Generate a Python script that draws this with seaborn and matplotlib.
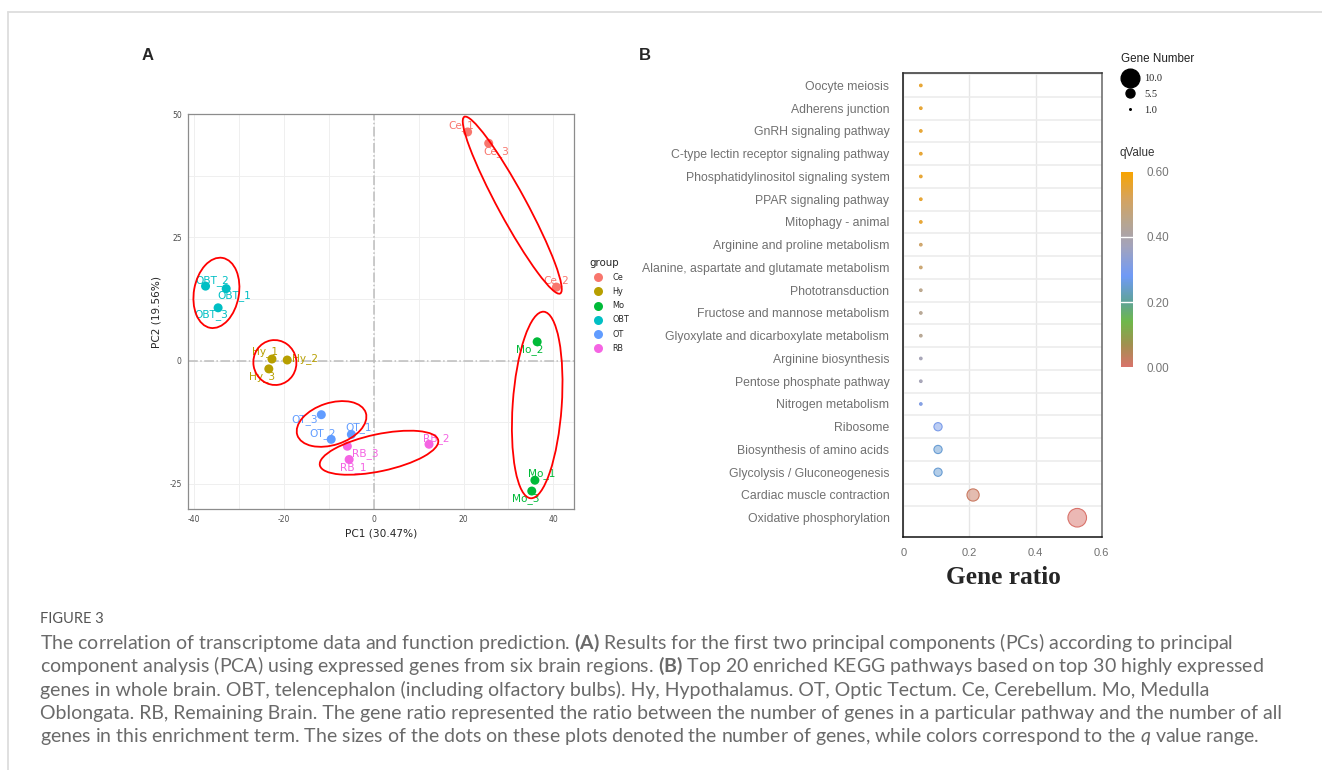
import numpy as np
import pandas as pd
import matplotlib
matplotlib.use("Agg")
import matplotlib.pyplot as plt
import seaborn as sns
from matplotlib.colors import LinearSegmentedColormap, Normalize
from matplotlib.cm import ScalarMappable
from matplotlib.lines import Line2D
from matplotlib.patches import Ellipse
from matplotlib.transforms import ScaledTranslation

# ----------------------------------------------------------------------
# Panel A data: PCA scores of the 18 brain samples
# ----------------------------------------------------------------------
SAMPLES = ["Ce_1", "Ce_2", "Ce_3", "Hy_1", "Hy_2", "Hy_3",
           "Mo_1", "Mo_2", "Mo_3", "OBT_1", "OBT_2", "OBT_3",
           "OT_1", "OT_2", "OT_3", "RB_1", "RB_2", "RB_3"]
PC1 = [20.9, 40.7, 25.6, -22.7, -19.3, -23.4,
       35.9, 36.4, 35.2, -32.9, -37.5, -34.7,
       -5.0, -9.5, -11.7, -5.5, 12.3, -5.9]
PC2 = [46.4, 14.9, 44.1, 0.3, 0.1, -1.7,
       -24.3, 3.8, -26.5, 14.6, 15.1, 10.7,
       -15.0, -16.0, -11.0, -20.1, -17.0, -17.4]
GROUP_ORDER = ["Ce", "Hy", "Mo", "OBT", "OT", "RB"]
GROUP_COLORS = ["#F8766D", "#B79F00", "#00BA38", "#00BFC4", "#619CFF", "#F564E3"]
PC1_VAR, PC2_VAR = 30.47, 19.56

# label nudges (pixels, y up) - hand placed like ggrepel did
LABEL_NUDGE = {
    "Ce_1": (-6, 6), "Ce_2": (0, 7), "Ce_3": (8, -8),
    "Hy_1": (-7, 7), "Hy_2": (18, 1), "Hy_3": (-7, -8),
    "Mo_1": (7, 7), "Mo_2": (-7, -8), "Mo_3": (-6, -8),
    "OBT_1": (8, -7), "OBT_2": (7, 6), "OBT_3": (-7, -7),
    "OT_1": (7, 7), "OT_2": (-9, 6), "OT_3": (-17, -5),
    "RB_1": (4, -8), "RB_2": (7, 6), "RB_3": (18, -7),
}
# hand-drawn red rings: centre (data), semi-axes (px), angle (deg)
ELLIPSES = [
    (30.85, 31.54, 100.5, 14.0, 118.5),
    (-22.05, -0.41, 22.5, 21.5, 100.0),
    (36.41, -9.03, 93.5, 24.5, 86.0),
    (-35.08, 13.73, 35.5, 22.5, 80.0),
    (-9.42, -12.88, 36.0, 21.0, 18.0),
    (1.16, -18.72, 60.5, 18.5, 12.0),
]

# ----------------------------------------------------------------------
# Panel B data: top 20 KEGG pathways
# ----------------------------------------------------------------------
PATHWAYS = ["Oocyte meiosis", "Adherens junction", "GnRH signaling pathway",
            "C-type lectin receptor signaling pathway",
            "Phosphatidylinositol signaling system", "PPAR signaling pathway",
            "Mitophagy - animal", "Arginine and proline metabolism",
            "Alanine, aspartate and glutamate metabolism", "Phototransduction",
            "Fructose and mannose metabolism",
            "Glyoxylate and dicarboxylate metabolism", "Arginine biosynthesis",
            "Pentose phosphate pathway", "Nitrogen metabolism", "Ribosome",
            "Biosynthesis of amino acids", "Glycolysis / Gluconeogenesis",
            "Cardiac muscle contraction", "Oxidative phosphorylation"]
GENE_NUMBER = [1, 1, 1, 1, 1, 1, 1, 1, 1, 1, 1, 1, 1, 1, 1, 2, 2, 2, 4, 10]
GENE_RATIO = [0.053, 0.053, 0.053, 0.053, 0.053, 0.053, 0.053, 0.053, 0.053,
              0.053, 0.053, 0.053, 0.053, 0.053, 0.053, 0.105, 0.105, 0.105,
              0.211, 0.526]
Q_VALUE = [0.56, 0.56, 0.56, 0.56, 0.56, 0.56, 0.56, 0.50, 0.49, 0.45,
           0.44, 0.44, 0.38, 0.38, 0.31, 0.30, 0.25, 0.25, 0.02, 0.00]
SIZE_LEGEND = [10.0, 5.5, 1.0]
Q_TICKS = [0.0, 0.2, 0.4, 0.6]

CAPTION = [
    r"The correlation of transcriptome data and function prediction. $\mathbf{(A)}$ Results for the first two principal components (PCs) according to principal",
    r"component analysis (PCA) using expressed genes from six brain regions. $\mathbf{(B)}$ Top 20 enriched KEGG pathways based on top 30 highly expressed",
    r"genes in whole brain. OBT, telencephalon (including olfactory bulbs). Hy, Hypothalamus. OT, Optic Tectum. Ce, Cerebellum. Mo, Medulla",
    r"Oblongata. RB, Remaining Brain. The gene ratio represented the ratio between the number of genes in a particular pathway and the number of all",
    r"genes in this enrichment term. The sizes of the dots on these plots denoted the number of genes, while colors correspond to the $\mathit{q}$ value range.",
]

W, H = 1322, 770

sns.set_style("white")
plt.rcParams["font.family"] = ["DejaVu Sans"]
plt.rcParams["axes.unicode_minus"] = False
plt.rcParams["mathtext.fontset"] = "custom"
plt.rcParams["mathtext.rm"] = "Lato"
plt.rcParams["mathtext.bf"] = "Lato:bold"
plt.rcParams["mathtext.it"] = "Lato:italic"


def px_rect(left, top, right, bottom):
    return [left / W, 1 - bottom / H, (right - left) / W, (bottom - top) / H]


def size_for(n):
    # marker area (pt^2) per gene count, read from dot diameters in px
    diam_px = {1: 2.6, 2: 8.2, 4: 12.2, 10: 18.6}
    return (diam_px[n] * 72 / 100) ** 2


fig = plt.figure(figsize=(W / 100, H / 100), dpi=100)

# ----------------------------------------------------------------------
# Panel A
# ----------------------------------------------------------------------
dfA = pd.DataFrame({"sample": SAMPLES, "PC1": PC1, "PC2": PC2})
dfA["group"] = dfA["sample"].str.split("_").str[0]

axA = fig.add_axes(px_rect(188, 114, 574, 509))
axA.axhline(0, color="#bdbdbd", lw=1.1, ls="-.", zorder=1)
axA.axvline(0, color="#bdbdbd", lw=1.1, ls="-.", zorder=1)
sns.scatterplot(data=dfA, x="PC1", y="PC2", hue="group", hue_order=GROUP_ORDER,
                palette=GROUP_COLORS, s=42, linewidth=0, ax=axA, zorder=3)

xr = dfA["PC1"].max() - dfA["PC1"].min()
yr = dfA["PC2"].max() - dfA["PC2"].min()
axA.set_xlim(dfA["PC1"].min() - 0.05 * xr, dfA["PC1"].max() + 0.05 * xr)
axA.set_ylim(dfA["PC2"].min() - 0.05 * yr, dfA["PC2"].max() + 0.05 * yr)
axA.set_xticks([-40, -20, 0, 20, 40])
axA.set_yticks([-25, 0, 25, 50])
axA.set_xticks([-30, -10, 10, 30], minor=True)
axA.set_yticks([-12.5, 12.5, 37.5], minor=True)
axA.grid(True, which="both", color="#efefef", lw=0.7, zorder=0)
axA.set_axisbelow(True)
axA.tick_params(which="major", length=2.5, width=0.6, color="#555555",
                labelsize=5.5, labelcolor="#4d4d4d", pad=2)
axA.tick_params(which="minor", length=0)
for sp in axA.spines.values():
    sp.set_color("#8c8c8c")
    sp.set_linewidth(0.9)
axA.set_xlabel(f"PC1 ({PC1_VAR:.2f}%)", fontsize=7.6, labelpad=3)
axA.set_ylabel(f"PC2 ({PC2_VAR:.2f}%)", fontsize=7.6, labelpad=6)

color_of = dict(zip(GROUP_ORDER, GROUP_COLORS))
for _, row in dfA.iterrows():
    axA.annotate(row["sample"], (row["PC1"], row["PC2"]),
                 xytext=LABEL_NUDGE[row["sample"]], textcoords="offset pixels",
                 ha="center", va="center", fontsize=7.6,
                 color=color_of[row["group"]], zorder=4)

for cx, cy, a, b, ang in ELLIPSES:
    tr = fig.dpi_scale_trans + ScaledTranslation(cx, cy, axA.transData)
    axA.add_patch(Ellipse((0, 0), 2 * a / fig.dpi, 2 * b / fig.dpi, angle=ang,
                          transform=tr, fill=False, ec="#ff0000", lw=1.3,
                          zorder=5))

sns.move_legend(axA, "upper left", bbox_to_anchor=(1.04, 0.635), frameon=False,
                title="group", fontsize=5.9, title_fontsize=7.4,
                labelspacing=0.62, handletextpad=0.8, borderpad=0,
                borderaxespad=0, handlelength=2.0)
axA.get_legend()._legend_box.align = "left"

# ----------------------------------------------------------------------
# Panel B
# ----------------------------------------------------------------------
q_cmap = LinearSegmentedColormap.from_list("qvalue", [
    (0.00, "#d9736b"), (0.07 / 0.6, "#a0914f"), (0.14 / 0.6, "#6fb84a"),
    (0.20 / 0.6, "#5fa398"), (0.28 / 0.6, "#6f9af7"), (0.37 / 0.6, "#a2a3bd"),
    (0.45 / 0.6, "#b9a58c"), (0.52 / 0.6, "#d6a35c"), (1.00, "#f8a400")])
q_norm = Normalize(0, 0.6)

n = len(PATHWAYS)
dfB = pd.DataFrame({"pathway": PATHWAYS, "ratio": GENE_RATIO,
                    "count": GENE_NUMBER, "q": Q_VALUE})
dfB["pos"] = np.arange(n)[::-1]

axB = fig.add_axes(px_rect(903.3, 72.7, 1101.7, 537.3))
sns.scatterplot(data=dfB, x="ratio", y="pos", hue="q", palette=q_cmap,
                hue_norm=(0, 0.6), size="count",
                sizes={k: size_for(k) for k in set(GENE_NUMBER)},
                legend=False, linewidth=0.8, ax=axB, zorder=3)
pts = axB.collections[0]
base = q_cmap(q_norm(dfB["q"].to_numpy()))
face = base.copy()
face[:, 3] = np.where(dfB["count"].to_numpy() > 1, 0.5, 0.9)
pts.set_facecolors(face)
pts.set_edgecolors(base)

axB.set_xlim(0, 0.6)
axB.set_ylim(-0.86, n - 0.44)
axB.set_xticks([0, 0.2, 0.4, 0.6])
axB.set_xticklabels(["0", "0.2", "0.4", "0.6"])
axB.set_yticks(dfB["pos"])
axB.set_yticklabels(dfB["pathway"])
axB.set_yticks(np.arange(n) + 0.5, minor=True)
axB.set_xlabel("")
axB.set_ylabel("")
axB.grid(False)
axB.grid(True, axis="x", which="major", color="#e6e6e6", lw=1.0, zorder=0)
axB.grid(True, axis="y", which="minor", color="#ececec", lw=1.2, zorder=0)
axB.set_axisbelow(True)
axB.tick_params(axis="y", which="major", length=0, pad=10)
axB.tick_params(axis="y", which="minor", length=4.5, width=1.0, color="#222222")
axB.tick_params(axis="x", which="major", length=3, width=0.8, color="#555555",
                pad=5)
for lab in axB.get_yticklabels() + axB.get_xticklabels():
    lab.set_family(["Liberation Sans", "DejaVu Sans"])
    lab.set_color("#707070")
for lab in axB.get_yticklabels():
    lab.set_fontsize(8.8)
for lab in axB.get_xticklabels():
    lab.set_fontsize(8.0)
for name, sp in axB.spines.items():
    sp.set_visible(True)
    sp.set_linewidth(1.1)
    sp.set_color("#111111")
axB.spines["right"].set_color("#666666")
axB.spines["top"].set_color("#333333")

fig.text(1003 / W, 1 - 578 / H, "Gene ratio", ha="center", va="center",
         fontsize=18.3, fontweight="bold",
         family=["Liberation Serif", "DejaVu Serif"])

# qValue colour bar
cax = fig.add_axes(px_rect(1120.7, 171.7, 1132.7, 367.3))
cb = fig.colorbar(ScalarMappable(norm=q_norm, cmap=q_cmap), cax=cax)
cb.outline.set_visible(False)
cb.set_ticks(Q_TICKS)
cb.set_ticklabels([f"{v:.2f}" for v in Q_TICKS])
cax.tick_params(length=0, pad=10, labelsize=8.4, labelcolor="#777777")
for lab in cax.get_yticklabels():
    lab.set_family(["Liberation Sans", "DejaVu Sans"])
for v in Q_TICKS[1:-1]:
    cax.axhline(v, color="white", lw=1.0)
fig.text(1120 / W, 1 - 153 / H, "qValue", ha="left", va="center",
         fontsize=8.4, color="#333333", family=["Liberation Sans", "DejaVu Sans"])

# Gene Number size legend
legend_diam_px = {10.0: 18.7, 5.5: 9.0, 1.0: 1.6}
handles = [Line2D([], [], ls="none", marker="o", color="black",
                  markersize=legend_diam_px[v] * 0.72) for v in SIZE_LEGEND]
fig.legend(handles, [f"{v:.1f}" for v in SIZE_LEGEND], loc="upper left",
           bbox_to_anchor=(1120 / W, 1 - 74 / H), frameon=False,
           prop={"family": ["Liberation Serif", "DejaVu Serif"], "size": 7.5},
           handlelength=1.9, handletextpad=0.45, labelspacing=0.62,
           borderpad=0, borderaxespad=0)
fig.text(1121 / W, 1 - 59 / H, "Gene Number", ha="left", va="center",
         fontsize=8.4, color="#222222", family=["Liberation Sans", "DejaVu Sans"])

# ----------------------------------------------------------------------
# Page furniture: panel letters, frame, caption
# ----------------------------------------------------------------------
for letter, x in [("A", 148), ("B", 645)]:
    fig.text(x / W, 1 - 55 / H, letter, ha="center", va="center", fontsize=12,
             fontweight="bold", family=["Liberation Sans", "DejaVu Sans"])

fig.add_artist(Line2D([8 / W, 1], [1 - 12 / H, 1 - 12 / H], color="#dddddd", lw=1.3))
fig.add_artist(Line2D([8 / W, 8 / W], [0, 1 - 12 / H], color="#dddddd", lw=1.3))

renderer = fig.canvas.get_renderer()
head = fig.text(40 / W, 1 - 619 / H, "FIGURE 3", ha="left", va="center",
                fontsize=10, color="#555555", family=["Lato", "DejaVu Sans"])
head.set_fontsize(10 * 63 / head.get_window_extent(renderer).width)

cap_texts = []
for i, line in enumerate(CAPTION):
    t = fig.text(40 / W, 1 - (643 + 23.4 * i) / H, line, ha="left", va="center",
                 fontsize=12, color="#6a6a6a", family=["Lato", "DejaVu Sans"])
    cap_texts.append(t)
scale = 1189 / cap_texts[0].get_window_extent(renderer).width
for t in cap_texts:
    t.set_fontsize(12 * scale)

fig.savefig("out.png", dpi=100)
